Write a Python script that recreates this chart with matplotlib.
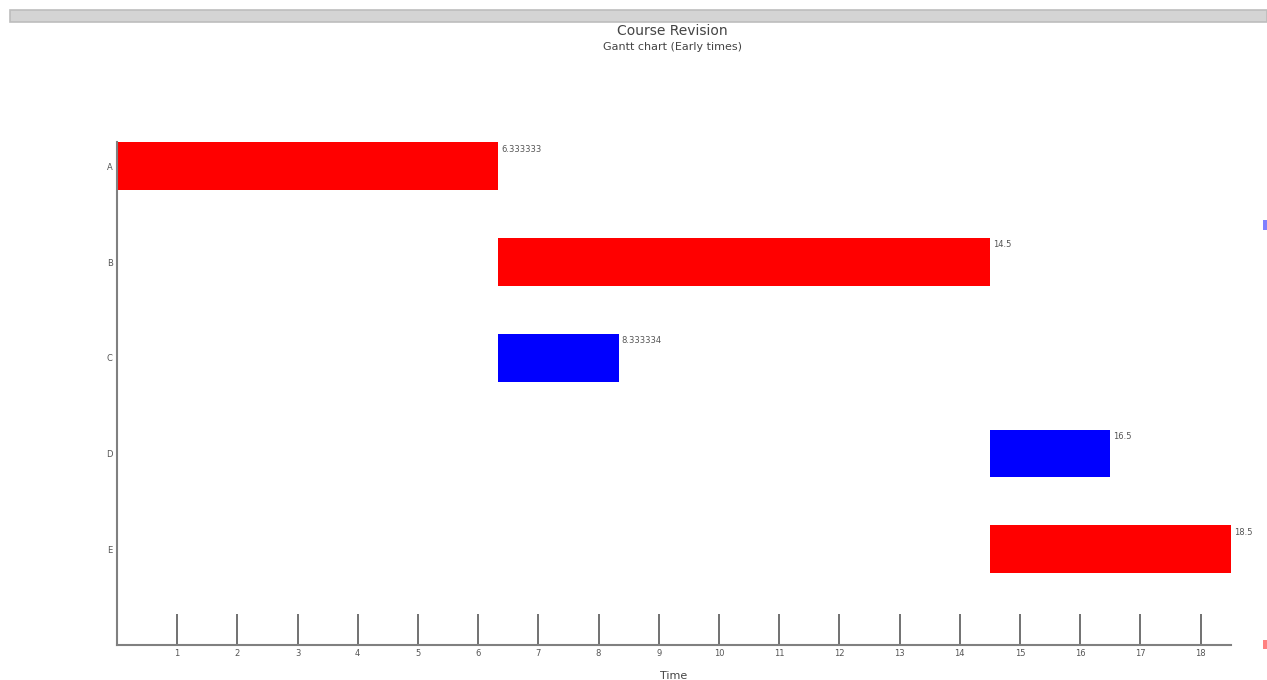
import matplotlib
matplotlib.use('Agg')
import matplotlib.pyplot as plt
from matplotlib.patches import Rectangle

# tasks of the course revision (early times)
tasks = ['A', 'B', 'C', 'D', 'E']
starts = [0, 6.333333, 6.333333, 14.5, 14.5]
durations = [6.333333, 8.166667, 2.000001, 2.0, 4.0]
finish_labels = ['6.333333', '14.5', '8.333334', '16.5', '18.5']
critical = [True, True, False, False, True]
xticks = list(range(1, 19))

fig = plt.figure(figsize=(12.67, 6.8), dpi=100)

# window strip at the top of the screenshot
fig.patches.append(Rectangle((0.008, 0.968), 0.992, 0.018, transform=fig.transFigure,
                             facecolor='#d4d4d4', edgecolor='#bdbdbd', linewidth=1.2))

ax = fig.add_axes([0.0923, 0.0515, 0.879, 0.739])

for i, (s, d, lab, crit) in enumerate(zip(starts, durations, finish_labels, critical)):
    color = '#ff0000' if crit else '#0000ff'
    ax.barh(i, d, left=s, height=0.5, color=color, edgecolor='none')
    ax.text(s + d + 0.05, i - 0.18, lab, fontsize=6, color='#555555', va='center', ha='left')

ax.set_xlim(0, 18.5)
ax.set_ylim(5.0, -0.25)
ax.set_xticks(xticks)
ax.set_xticklabels([str(t) for t in xticks], fontsize=6, color='#555555')
ax.set_yticks(range(len(tasks)))
ax.set_yticklabels(tasks, fontsize=6, color='#555555')
ax.tick_params(axis='x', direction='in', length=22, width=1.3, color='#666666', pad=3)
ax.tick_params(axis='y', length=0, pad=3)

for side in ['top', 'right']:
    ax.spines[side].set_visible(False)
for side in ['left', 'bottom']:
    ax.spines[side].set_color('#808080')
    ax.spines[side].set_linewidth(1.5)

ax.set_xlabel('Time', fontsize=8, color='#444444', labelpad=9)

fig.text(0.531, 0.954, 'Course Revision', ha='center', va='center', fontsize=10, color='#444444')
fig.text(0.531, 0.931, 'Gantt chart (Early times)', ha='center', va='center', fontsize=8, color='#444444')

# cut-off legend marks at the right edge
fig.patches.append(Rectangle((0.997, 0.662), 0.003, 0.014, transform=fig.transFigure,
                             facecolor='#8080ff', edgecolor='none'))
fig.patches.append(Rectangle((0.997, 0.045), 0.003, 0.014, transform=fig.transFigure,
                             facecolor='#ff8080', edgecolor='none'))

fig.savefig('out.png', dpi=100)
